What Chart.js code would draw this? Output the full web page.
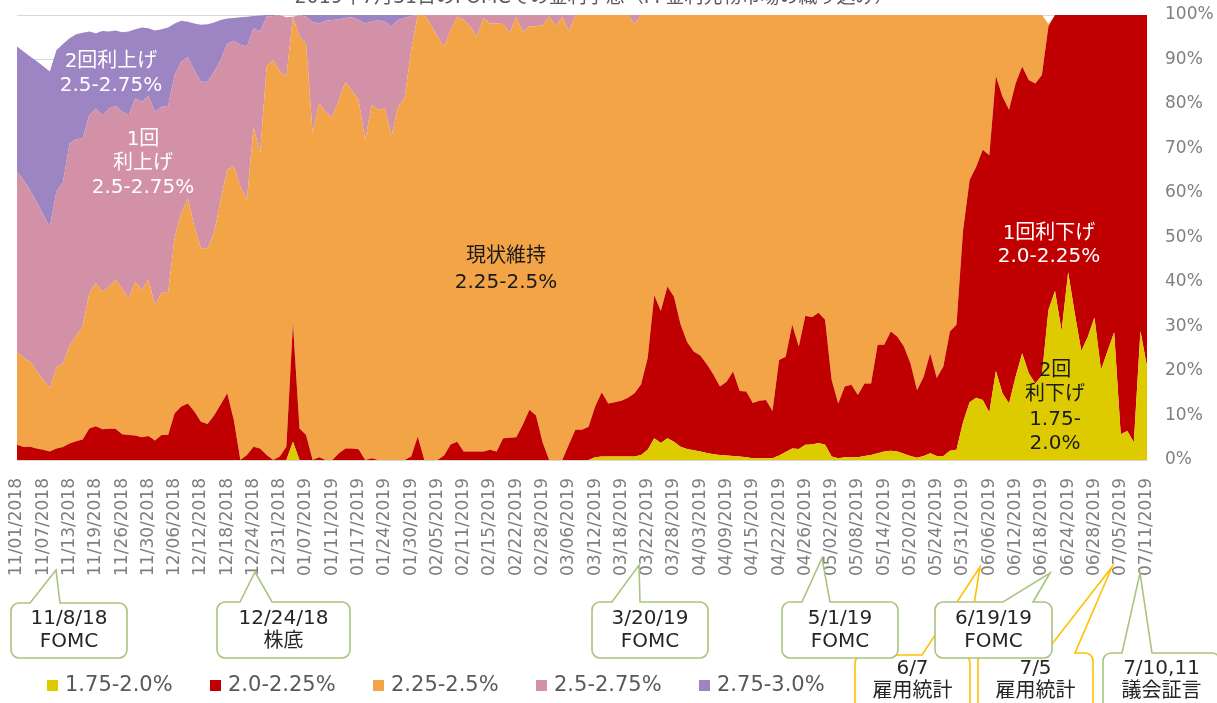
<!DOCTYPE html>
<html><head><meta charset="utf-8">
<script src="https://cdn.jsdelivr.net/npm/chart.js@4.4.1/dist/chart.umd.min.js"></script>
<style>html,body{margin:0;padding:0;background:#fff;}#wrap{position:relative;width:1217px;height:703px;}canvas{display:block;}</style>
</head><body><div id="wrap"><canvas id="c" width="1217" height="703"></canvas></div>
<script>
// ---- categories (trading days) ----
const dates = [
"11/01/2018","11/02/2018","11/05/2018","11/06/2018","11/07/2018","11/08/2018","11/09/2018","11/12/2018","11/13/2018","11/14/2018",
"11/15/2018","11/16/2018","11/19/2018","11/20/2018","11/21/2018","11/23/2018","11/26/2018","11/27/2018","11/28/2018","11/29/2018",
"11/30/2018","12/03/2018","12/04/2018","12/05/2018","12/06/2018","12/07/2018","12/10/2018","12/11/2018","12/12/2018","12/13/2018",
"12/14/2018","12/17/2018","12/18/2018","12/19/2018","12/20/2018","12/21/2018","12/24/2018","12/26/2018","12/27/2018","12/28/2018",
"12/31/2018","01/02/2019","01/03/2019","01/04/2019","01/07/2019","01/08/2019","01/09/2019","01/10/2019","01/11/2019","01/14/2019",
"01/15/2019","01/16/2019","01/17/2019","01/18/2019","01/22/2019","01/23/2019","01/24/2019","01/25/2019","01/28/2019","01/29/2019",
"01/30/2019","01/31/2019","02/01/2019","02/04/2019","02/05/2019","02/06/2019","02/07/2019","02/08/2019","02/11/2019","02/12/2019",
"02/13/2019","02/14/2019","02/15/2019","02/19/2019","02/20/2019","02/21/2019","02/22/2019","02/25/2019","02/26/2019","02/27/2019",
"02/28/2019","03/01/2019","03/04/2019","03/05/2019","03/06/2019","03/07/2019","03/08/2019","03/11/2019","03/12/2019","03/13/2019",
"03/14/2019","03/15/2019","03/18/2019","03/19/2019","03/20/2019","03/21/2019","03/22/2019","03/25/2019","03/26/2019","03/27/2019",
"03/28/2019","03/29/2019","04/01/2019","04/02/2019","04/03/2019","04/04/2019","04/05/2019","04/08/2019","04/09/2019","04/10/2019",
"04/11/2019","04/12/2019","04/15/2019","04/16/2019","04/17/2019","04/18/2019","04/22/2019","04/23/2019","04/24/2019","04/25/2019",
"04/26/2019","04/29/2019","04/30/2019","05/01/2019","05/02/2019","05/03/2019","05/06/2019","05/07/2019","05/08/2019","05/09/2019",
"05/10/2019","05/13/2019","05/14/2019","05/15/2019","05/16/2019","05/17/2019","05/20/2019","05/21/2019","05/22/2019","05/23/2019",
"05/24/2019","05/28/2019","05/29/2019","05/30/2019","05/31/2019","06/03/2019","06/04/2019","06/05/2019","06/06/2019","06/07/2019",
"06/10/2019","06/11/2019","06/12/2019","06/13/2019","06/14/2019","06/17/2019","06/18/2019","06/19/2019","06/20/2019","06/21/2019",
"06/24/2019","06/25/2019","06/26/2019","06/27/2019","06/28/2019","07/01/2019","07/02/2019","07/03/2019","07/05/2019","07/08/2019",
"07/09/2019","07/10/2019","07/11/2019"];
const labelEvery = 4;

// ---- series values (probability, %) ----
const s175 = [ // 1.75-2.0%
0,0,0,0,0,0,0,0,0,0, 0,0,0,0,0,0,0,0,0,0, 0,0,0,0,0,0,0,0,0,0, 0,0,0,0,0,0,0,0,0,0,
0,0,4.1,0,0,0,0,0,0,0, 0,0,0,0,0,0,0,0,0,0, 0,0,0,0,0,0,0,0,0,0, 0,0,0,0,0,0,0,0,0,0,
0,0,0,0,0,0,0,0,0.6,0.8, 0.8,0.8,0.8,0.8,0.8,1.1,2.3,4.9,3.8,4.9,
4.1,3.0,2.5,2.2,1.9,1.6,1.3,1.1,1.0,0.9, 0.8,0.6,0.4,0.4,0.4,0.4,1.0,1.8,2.6,2.5,
3.4,3.5,3.8,3.4,0.8,0.4,0.6,0.6,0.6,0.9, 1.1,1.5,1.9,2.1,1.9,1.4,0.9,0.5,0.9,1.5,
0.9,0.9,2.1,2.3,8.5,13.0,14.0,13.5,10.7,20.0, 15.0,12.7,18.7,24.0,19.5,17.2,19.0,33.7,38.0,29.0,
42.2,33.0,24.5,27.7,32.0,20.2,24.5,28.7,5.8,6.5, 4.0,29.0,21.0];
const s200 = [ // 2.0-2.25%
3.4,2.9,3.0,2.6,2.3,1.9,2.6,2.9,3.7,4.2, 4.6,7.1,7.6,6.9,7.0,7.0,5.8,5.6,5.5,5.1,
5.4,4.4,5.6,5.6,10.5,12.0,12.7,10.9,8.6,8.1, 10.0,12.5,15.0,9.0,0,1.1,3.0,2.6,1.1,0,
0.8,3.0,26.6,7.1,5.6,0,0.6,0,0,1.5, 2.6,2.6,2.4,0,0.4,0,0,0,0,0,
0.8,5.3,0,0,0,1.0,3.5,4.1,1.9,1.9, 1.9,1.9,2.3,1.9,4.9,5.0,5.1,8.0,11.3,10.0,
4.0,0,0,0,3.5,6.8,6.8,7.5,11.4,14.4, 11.9,12.2,12.5,13.2,14.2,15.9,20.7,32.1,29.7,34.1,
32.6,27.5,24.0,22.2,21.6,19.9,17.9,15.4,16.6,19.0, 14.7,14.8,12.4,12.9,13.1,10.6,21.5,21.4,27.8,23.0,
29.0,28.6,29.3,28.1,17.2,12.3,15.9,16.3,14.0,16.3, 16.1,24.4,24.0,26.8,25.8,24.1,20.8,15.2,17.8,22.5,
17.5,20.1,26.8,28.1,43.0,49.9,51.9,56.2,57.8,66.3, 66.7,66.0,65.9,64.4,65.9,67.4,67.5,63.8,62.0,71.0,
57.8,67.0,75.5,72.3,68.0,79.8,75.5,71.3,94.2,93.5, 96.0,71.0,79.0];
const s225 = [ // 2.25-2.5%
21.0,20.1,19.1,17.4,15.7,14.2,18.2,18.8,22.0,23.8, 25.4,30.4,32.1,30.9,32.0,33.5,32.7,30.7,34.6,33.1,
35.2,30.4,32.0,32.0,39.5,43.5,46.1,41.5,39.0,39.5, 41.0,45.9,50.2,57.0,61.4,57.4,71.9,66.3,87.3,89.9,
86.5,83.1,68.9,88.0,88.0,73.4,79.6,77.9,77.2,79.4, 82.4,80.4,78.5,71.9,79.4,78.7,79.0,72.7,79.4,81.3,
91.3,94.7,100,97.8,95.1,91.9,93.1,95.5,97.0,95.5, 93.2,97.4,95.8,96.2,93.1,91.0,94.5,88.1,86.1,87.5,
93.7,99.6,97.5,99.6,92.8,93.2,93.2,92.5,88.0,84.8, 87.3,87.0,86.7,86.0,83.0,83.0,77.0,63.0,66.5,61.0,
63.3,69.5,73.5,75.6,76.5,78.5,80.8,83.5,82.4,80.1, 84.5,84.6,87.2,86.7,86.5,89.0,77.5,76.8,69.6,74.5,
67.6,67.9,66.9,68.5,82.0,87.3,83.5,83.1,85.4,82.8, 82.8,74.1,74.1,71.1,72.3,74.5,78.3,84.3,81.3,76.0,
81.6,79.0,71.1,69.6,48.5,37.1,34.1,30.3,31.5,13.7, 18.3,21.3,15.4,11.6,14.6,15.4,13.5,0.5,0,0,
0,0,0,0,0,0,0,0,0,0, 0,0,0];
const s250 = [ // 2.5-2.75%
40.4,39.9,38.6,38.0,37.1,36.3,39.5,40.8,45.5,44.1, 42.3,40.0,39.3,39.7,40.0,39.1,39.8,41.2,41.2,42.3,
41.2,43.5,41.8,42.0,36.5,34.0,31.8,35.2,37.4,37.4, 36.3,31.5,28.4,28.2,31.9,34.4,22.1,27.4,11.2,9.9,
12.7,13.4,0,4.9,6.0,25.1,17.9,20.8,21.7,18.1, 14.3,16.5,18.0,26.2,18.7,20.2,19.5,24.8,19.5,18.0,
7.7,0,0,2.2,4.9,7.1,3.4,0.4,1.1,2.6, 4.9,0.7,1.9,1.9,2.0,4.0,0.4,3.9,2.6,2.5,
2.3,0.4,2.5,0.4,3.7,0,0,0,0,0, 0,0,0,0,2.0,0,0,0,0,0,
0,0,0,0,0,0,0,0,0,0, 0,0,0,0,0,0,0,0,0,0, 0,0,0,0,0,0,0,0,0,0, 0,0,0,0,0,0,0,0,0,0,
0,0,0,0,0,0,0,0,0,0, 0,0,0,0,0,0,0,0,0,0, 0,0,0,0,0,0,0,0,0,0, 0,0,0];
const s275 = [ // 2.75-3.0%
28.1,28.9,30.0,31.6,33.4,34.9,31.8,31.0,23.6,23.6, 23.7,18.8,16.9,18.9,17.3,16.9,17.8,18.8,15.5,16.7,
15.2,18.2,17.4,17.6,11.6,9.2,7.9,10.5,12.8,12.9, 11.0,9.0,5.6,5.1,6.2,6.7,2.8,3.6,0.4,0.2,
0,0,0,0,0.4,1.5,1.9,1.3,1.1,1.0, 0.7,0.5,1.1,1.9,1.5,1.1,1.5,2.5,1.1,0.7,
0.2,0,0,0,0,0,0,0,0,0, 0,0,0,0,0,0,0,0,0,0, 0,0,0,0,0,0,0,0,0,0, 0,0,0,0,0,0,0,0,0,0,
0,0,0,0,0,0,0,0,0,0, 0,0,0,0,0,0,0,0,0,0, 0,0,0,0,0,0,0,0,0,0, 0,0,0,0,0,0,0,0,0,0,
0,0,0,0,0,0,0,0,0,0, 0,0,0,0,0,0,0,0,0,0, 0,0,0,0,0,0,0,0,0,0, 0,0,0];
const seriesNames = ["1.75-2.0%","2.0-2.25%","2.25-2.5%","2.5-2.75%","2.75-3.0%"];
const yTicks = [0,10,20,30,40,50,60,70,80,90,100];

// ---- styles / layout ----
const FONT = "'DejaVu Sans','Noto Sans CJK JP',sans-serif";
const colors = ["#DDCB00","#C00000","#F2A446","#D291A6","#9D84C2"];
const GREEN = "#A9C47F", YEL = "#FFC000";
const callouts = [
  {x:855,y:655,w:115,h:62,tip:[980,567],base:[922,966],c:YEL,lines:["6/7","雇用統計"],ty:[669,692]},
  {x:978,y:653,w:115,h:62,tip:[1112,567],base:[1045,1075],c:YEL,lines:["7/5","雇用統計"],ty:[669,692]},
  {x:1103,y:653,w:117,h:62,tip:[1140,573],base:[1122,1152],c:GREEN,lines:["7/10,11","議会証言"],ty:[669,692]},
  {x:11,y:603,w:116,h:55,tip:[56,570],base:[30,60],c:GREEN,lines:["11/8/18","FOMC"],ty:[619,642]},
  {x:217,y:602,w:133,h:56,tip:[255,572],base:[240,272],c:GREEN,lines:["12/24/18","株底"],ty:[619,642]},
  {x:592,y:602,w:116,h:56,tip:[639,565],base:[612,640],c:GREEN,lines:["3/20/19","FOMC"],ty:[619,642]},
  {x:782,y:602,w:116,h:56,tip:[822,558],base:[802,830],c:GREEN,lines:["5/1/19","FOMC"],ty:[619,642]},
  {x:935,y:602,w:117,h:56,tip:[1050,573],base:[1003,1033],c:GREEN,lines:["6/19/19","FOMC"],ty:[619,642]}
];
const areaLabels = [
  {x:111,y:[62,86],lines:["2回利上げ","2.5-2.75%"],c:"#ffffff"},
  {x:143,y:[140,164,188],lines:["1回","利上げ","2.5-2.75%"],c:"#ffffff"},
  {x:506,y:[257,283],lines:["現状維持","2.25-2.5%"],c:"#1a1a1a"},
  {x:1049,y:[234,257],lines:["1回利下げ","2.0-2.25%"],c:"#ffffff"},
  {x:1055,y:[371,395,420,444],lines:["2回","利下げ","1.75-","2.0%"],c:"#1a1a1a"}
];

function callout(ctx,o){
  const r=8,{x,y,w,h}=o;
  ctx.beginPath();
  ctx.moveTo(x+r,y);
  ctx.lineTo(o.base[0],y);ctx.lineTo(o.tip[0],o.tip[1]);ctx.lineTo(o.base[1],y);
  ctx.lineTo(x+w-r,y);ctx.arcTo(x+w,y,x+w,y+r,r);
  ctx.lineTo(x+w,y+h-r);ctx.arcTo(x+w,y+h,x+w-r,y+h,r);
  ctx.lineTo(x+r,y+h);ctx.arcTo(x,y+h,x,y+h-r,r);
  ctx.lineTo(x,y+r);ctx.arcTo(x,y,x+r,y,r);
  ctx.closePath();
  ctx.fillStyle="#fff";ctx.fill();
  ctx.lineWidth=1.6;ctx.strokeStyle=o.c;ctx.stroke();
  ctx.fillStyle="#262626";ctx.font="20px "+FONT;ctx.textAlign="center";ctx.textBaseline="middle";
  const cx=x+w/2;
  o.lines.forEach((t,i)=>ctx.fillText(t,cx,o.ty[i]));
}

const overlay = {
  id:"overlay",
  afterDraw(chart){
    const ctx=chart.ctx;
    ctx.save();
    // title (cut off at top in the reference)
    ctx.fillStyle="#595959";ctx.font="19px "+FONT;ctx.textAlign="center";ctx.textBaseline="alphabetic";
    ctx.fillText("2019年7月31日のFOMCでの金利予想（FF金利先物市場の織り込み）",594,3);
    // area labels
    ctx.font="20px "+FONT;ctx.textBaseline="middle";
    areaLabels.forEach(a=>{ctx.fillStyle=a.c;a.lines.forEach((t,i)=>ctx.fillText(t,a.x,a.y[i]));});
    // legend
    ctx.textAlign="left";ctx.font="21px "+FONT;
    chart.data.datasets.forEach((d,i)=>{
      const lx=47+163*i;
      ctx.fillStyle=d.backgroundColor;ctx.fillRect(lx,680,11,11);
      ctx.fillStyle="#595959";ctx.fillText(d.label,lx+18,686);
    });
    // callouts
    callouts.forEach(o=>callout(ctx,o));
    ctx.restore();
  }
};

Chart.defaults.font.family = FONT;
const series=[s175,s200,s225,s250,s275];
new Chart(document.getElementById("c"),{
  type:"line",
  data:{labels:dates,datasets:series.map((s,i)=>({
    label:seriesNames[i],data:s,backgroundColor:colors[i],borderColor:"rgba(0,0,0,0)",borderWidth:0,
    pointRadius:0,pointHoverRadius:0,tension:0,fill:i===0?"origin":"-1"}))},
  options:{
    responsive:false,animation:false,devicePixelRatio:1,
    layout:{padding:{left:17,top:15,right:0,bottom:0}},
    plugins:{legend:{display:false},tooltip:{enabled:false},title:{display:false}},
    scales:{
      x:{type:"category",offset:false,grid:{display:false},border:{display:true,color:"#d9d9d9",width:1},
        ticks:{autoSkip:false,minRotation:90,maxRotation:90,padding:10,color:"#7f7f7f",font:{size:17},
          callback:(v,i)=> i%labelEvery===0 ? dates[i] : null},
        afterFit:s=>{s.height=243;s.paddingLeft=0;s.paddingRight=0;}},
      y:{position:"right",stacked:true,min:0,max:100,grid:{color:"#d9d9d9",drawTicks:false},border:{display:false},
        afterBuildTicks:s=>{s.ticks=yTicks.map(v=>({value:v}));},
        ticks:{padding:18,color:"#7f7f7f",font:{size:17},callback:v=>v+"%"},
        afterFit:s=>{s.width=70;s.paddingTop=0;s.paddingBottom=0;}}
    }
  },
  plugins:[overlay]
});
</script></body></html>
